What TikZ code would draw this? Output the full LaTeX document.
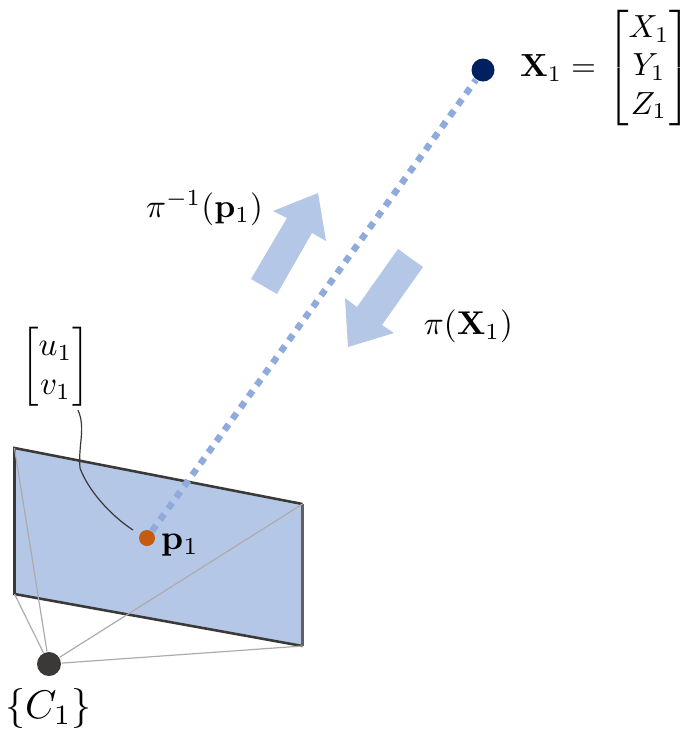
\documentclass[tikz,border=0pt]{standalone}
\usepackage{amsmath}
\definecolor{planeblue}{HTML}{B4C7E7}
\definecolor{raydot}{HTML}{8FAADC}
\definecolor{navypt}{HTML}{002060}
\definecolor{orangept}{HTML}{C55A11}
\definecolor{darkpt}{HTML}{3B3838}
\definecolor{edgegray}{HTML}{3B3838}
\definecolor{rimgray}{HTML}{AFABAB}
\tikzset{
  pt/.style={circle,inner sep=0pt,minimum size=#1},
  lab/.style={inner sep=0pt,outer sep=0pt},
  bigarrow/.style={fill=planeblue,draw=none},
  rim/.style={draw=rimgray,line width=1.2*0.3125pt},
  ray/.style={draw=raydot,line width=6.5*0.3125pt,dash pattern=on 7*0.3125pt off 6.8*0.3125pt}
}
\begin{document}
\begin{tikzpicture}[x=0.3125pt,y=-0.3125pt]
\useasboundingbox (0,0) rectangle (694,749);
\coordinate (tl) at (14.5,448);
\coordinate (tr) at (302.5,504);
\coordinate (br) at (302.5,646);
\coordinate (bl) at (14.5,594);
\fill[planeblue] (tl) -- (tr) -- (br) -- (bl) -- cycle;
\draw[edgegray,line width=0.8pt] (tr) -- (tl) -- (bl) -- (br);
\draw[edgegray!80!white,line width=0.75pt] (tr) -- (br);
\node[pt=24*0.3125pt,fill=darkpt] (cam) at (49,664) {};
\node[pt=16*0.3125pt,fill=orangept] (p) at (147,538) {};
\node[pt=23*0.3125pt,fill=navypt] (X) at (483,70) {};
\draw[rim] (cam) -- (tl);
\draw[rim] (cam) -- (bl);
\draw[rim] (cam) -- (tr);
\draw[rim] (cam) -- (br);
\draw[ray] (p) -- (X);
\fill[bigarrow] (251,279) -- (277,294) -- (312,233) -- (326,241) -- (318,193) -- (273,211) -- (287,218) -- cycle;
\fill[bigarrow] (398,249) -- (423,267) -- (382,325) -- (394,333) -- (348,347) -- (345,298) -- (357,307) -- cycle;
\node[lab,scale=1.03,transform shape] (uv) at (55.5,367) {$\begin{bmatrix} u_1\\ v_1\end{bmatrix}$};
\coordinate (uvend) at (78,410);
\coordinate (pend) at (133,530);
\draw[edgegray,line width=0.375pt] (uvend) .. controls (86,428) and (78,445) .. (80,468) .. controls (88,490) and (110,515) .. (pend);
\node[lab,scale=1.08,transform shape] (plab) at (180,545) {$\mathbf{p}_1$};
\node[lab,scale=1.25,transform shape] (clab) at (48.5,708) {$\{C_1\}$};
\node[lab,anchor=west] (Xlab) at (520,68) {$\mathbf{X}_1=$};
\node[lab] (Xmat) at (649,68) {$\begin{bmatrix} X_1\\ Y_1\\ Z_1\end{bmatrix}$};
\node[lab,scale=1.03,transform shape] (inv) at (204.5,208) {$\pi^{-1}(\mathbf{p}_1)$};
\node[lab,scale=1.03,transform shape] (proj) at (468.5,326) {$\pi(\mathbf{X}_1)$};
\end{tikzpicture}
\end{document}
